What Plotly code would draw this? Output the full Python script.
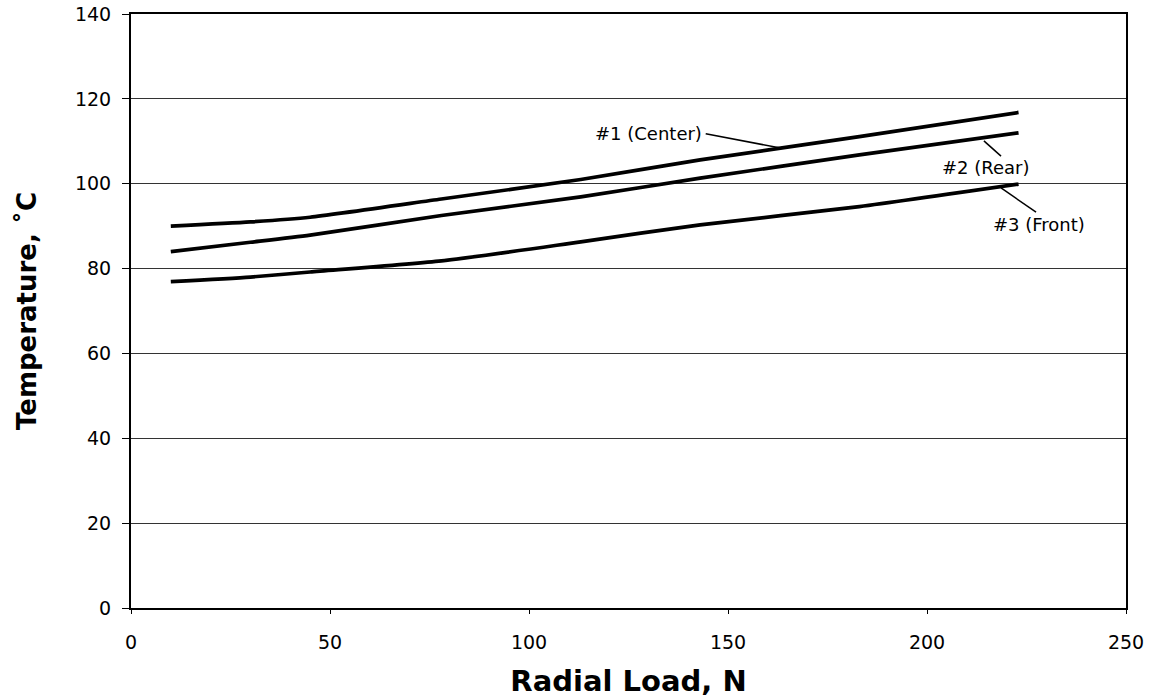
import plotly.graph_objects as go

# Data
radial_load = [10, 30, 45, 78, 113, 143, 183, 223]
center_temp = [90.0, 91.0, 92.1, 96.4, 101.0, 105.6, 111.1, 116.8]
rear_temp = [84.0, 86.2, 87.9, 92.5, 96.9, 101.3, 106.8, 112.0]
front_temp = [76.9, 78.0, 79.2, 81.8, 86.3, 90.3, 94.6, 99.9]

series_names = ["#1 (Center)", "#2 (Rear)", "#3 (Front)"]
x_ticks = [0, 50, 100, 150, 200, 250]
y_ticks = [0, 20, 40, 60, 80, 100, 120, 140]

# label positions (text centre) and leader lines (from, to) in data units
label_pos = [(130.0, 111.9), (214.8, 103.9), (228.1, 90.3)]
leaders = [((144.4, 111.8), (163.2, 108.4)),
           ((214.3, 110.1), (218.6, 106.5)),
           ((218.6, 99.0), (227.4, 93.3))]

FONT = "DejaVu Sans, Verdana, sans-serif"

fig = go.Figure()
for name, ys in zip(series_names, [center_temp, rear_temp, front_temp]):
    fig.add_trace(go.Scatter(
        x=radial_load, y=ys, mode="lines", name=name,
        line=dict(color="black", width=3.7, shape="spline", smoothing=0.6),
        showlegend=False,
    ))

ann_font = dict(family=FONT, size=18, color="black")
for name, (lx, ly) in zip(series_names, label_pos):
    fig.add_annotation(x=lx, y=ly, text=name, showarrow=False, font=ann_font,
                       xanchor="center", yanchor="middle")
for (x0, y0), (x1, y1) in leaders:
    fig.add_shape(type="line", xref="x", yref="y", x0=x0, y0=y0, x1=x1, y1=y1,
                  line=dict(color="black", width=1.5))

fig.update_layout(
    width=1151, height=700,
    margin=dict(l=131, r=25, t=14, b=92),
    paper_bgcolor="white", plot_bgcolor="white",
    font=dict(family=FONT, size=18, color="black"),
)
fig.update_xaxes(
    range=[0, 250], tickvals=x_ticks, showgrid=False, zeroline=False,
    showline=True, linecolor="black", linewidth=1.5, mirror=True,
    ticks="outside", ticklen=4, tickcolor="black",
    ticklabelstandoff=12, automargin=False,
    tickfont=dict(family=FONT, size=19, color="black"),
    title=dict(text="<b>Radial Load, N</b>", font=dict(family=FONT, size=29, color="black"),
               standoff=19),
)
fig.update_yaxes(
    range=[0, 140], tickvals=y_ticks, showgrid=True, gridcolor="#333333", gridwidth=1,
    zeroline=False,
    showline=True, linecolor="black", linewidth=2, mirror=True,
    ticks="outside", ticklen=7, tickcolor="black",
    ticklabelstandoff=7, automargin=False,
    tickfont=dict(family=FONT, size=19, color="black"),
    title=dict(text="<b>Temperature, ˚C</b>", font=dict(family=FONT, size=26, color="black"),
               standoff=31),
)

fig.write_html("out.html")
